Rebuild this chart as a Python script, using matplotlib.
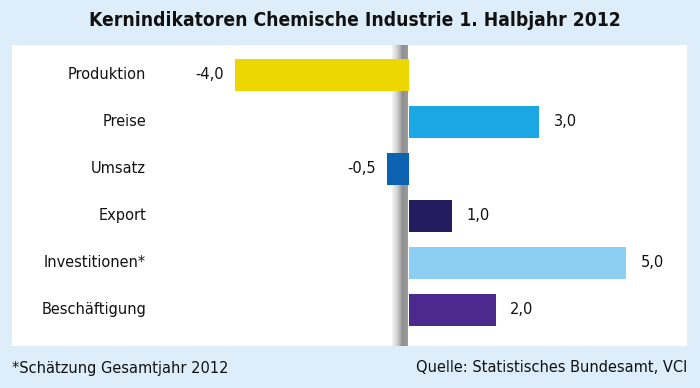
import matplotlib.pyplot as plt
import numpy as np
from matplotlib.colors import LinearSegmentedColormap

# Kernindikatoren Chemische Industrie, Veraenderung in %
categories = ["Produktion", "Preise", "Umsatz", "Export", "Investitionen*", "Beschäftigung"]
values = [-4.0, 3.0, -0.5, 1.0, 5.0, 2.0]
colors = ["#ecd800", "#1aa7e4", "#0b62b0", "#231c5e", "#8dcef3", "#4c2a8d"]
value_labels = ["-4,0", "3,0", "-0,5", "1,0", "5,0", "2,0"]

title = "Kernindikatoren Chemische Industrie 1. Halbjahr 2012"
footnote = "*Schätzung Gesamtjahr 2012"
source = "Quelle: Statistisches Bundesamt, VCI"

plt.rcParams["font.family"] = ["DejaVu Sans"]
plt.rcParams["font.stretch"] = "condensed"

fig = plt.figure(figsize=(7, 3.88), dpi=100, facecolor="#ddeefa")
# white panel in pixel coords: x 12..687, y 45..346
ax = fig.add_axes([12/700, (388-346)/388, 675/700, 301/388])
ax.set_facecolor("white")
for s in ax.spines.values():
    s.set_visible(False)
ax.set_xticks([])
ax.set_yticks([])

# grey divider at zero
grad = np.linspace(0, 1, 64).reshape(1, -1)
cm = LinearSegmentedColormap.from_list("div", ["#f4f4f4", "#cfcfcf", "#8e8e8e", "#9c9c9c"])
ax.imshow(grad, cmap=cm, extent=[-0.38, -0.02, 5.766, -0.638], aspect="auto", zorder=1)
ax.set_xlim(-9.115, 6.402)
ax.set_ylim(5.766, -0.638)

y = np.arange(len(categories))
ax.barh(y, values, height=0.70, color=colors, zorder=2)

for i, (cat, v, lab) in enumerate(zip(categories, values, value_labels)):
    ax.text(-6.03, i, cat, ha="right", va="center", fontsize=11.7, color="#111111")
    if v < 0:
        ax.annotate(lab, (v, i), xytext=(-7.5, 0), textcoords="offset points",
                    ha="right", va="center", fontsize=11.7, color="#111111")
    else:
        ax.annotate(lab, (v, i), xytext=(10.5, 0), textcoords="offset points",
                    ha="left", va="center", fontsize=11.7, color="#111111")

fig.text(355/700, 1 - 20/388, title, ha="center", va="center", fontsize=13.8,
         fontweight="bold", color="#111111")
fig.text(12/700, 1 - 368/388, footnote, ha="left", va="center", fontsize=11.7, color="#111111")
fig.text(687/700, 1 - 368/388, source, ha="right", va="center", fontsize=11.7, color="#111111")

fig.savefig("out.png", dpi=100, facecolor=fig.get_facecolor())
